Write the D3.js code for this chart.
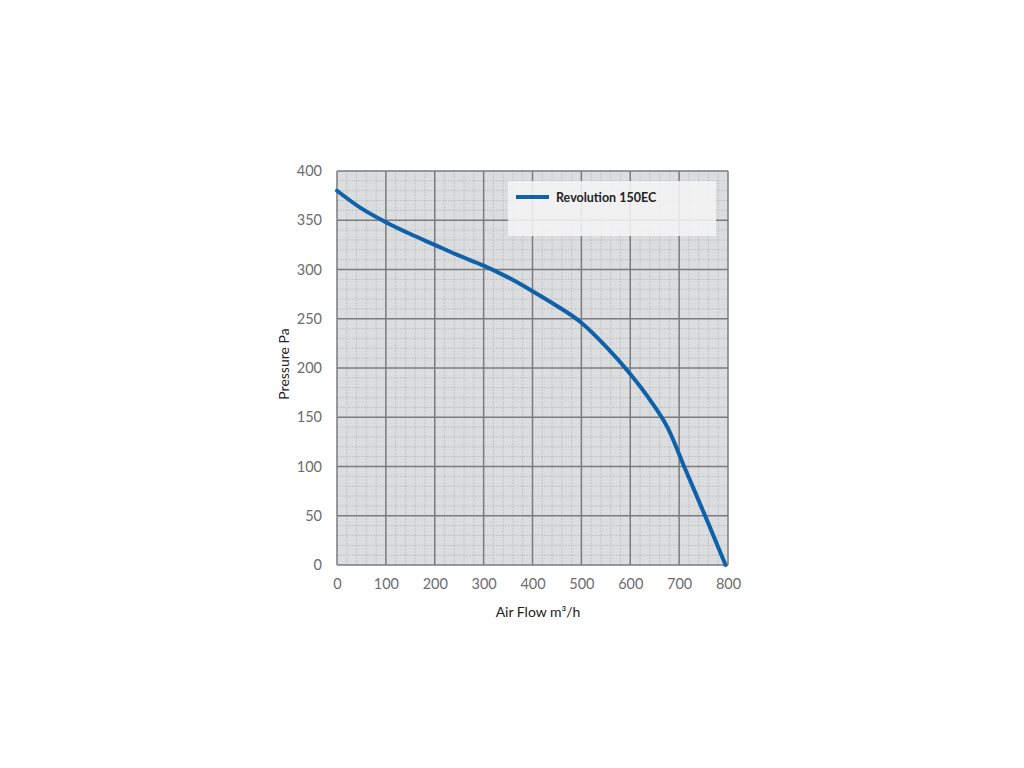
<!DOCTYPE html>
<html><head><meta charset="utf-8">
<script src="https://cdn.jsdelivr.net/npm/d3@7"></script>
<style>body{margin:0;background:#fff;} svg{display:block;}</style>
</head><body>
<script>
const seriesName = "Revolution 150EC";
const airFlow = [0,50,100,150,200,250,300,350,400,450,500,550,600,640,677,712,760,795];
const pressure = [380,362,348,336,325,314,304,292,278,263,246,222,194,168,139,98,42,0];
const xTicks = [0,100,200,300,400,500,600,700,800];
const yTicks = [0,50,100,150,200,250,300,350,400];
const xLabel = "Air Flow m³/h";
const yLabel = "Pressure Pa";

const W=1024,H=768;
const svg=d3.select("body").append("svg").attr("width",W).attr("height",H);
const x=d3.scaleLinear().domain([0,800]).range([337,728]);
const y=d3.scaleLinear().domain([0,400]).range([565,171]);
const font="Lato, 'Open Sans', sans-serif";

svg.append("rect").attr("x",x(0)).attr("y",y(400)).attr("width",x(800)-x(0)).attr("height",y(0)-y(400)).attr("fill","#dcdddf");

// minor grid
const xMinor=d3.range(0,801,20).filter(v=>v%100!==0);
const yMinor=d3.range(0,401,10).filter(v=>v%50!==0);
svg.append("g").selectAll("line").data(xMinor).join("line")
 .attr("x1",d=>x(d)).attr("x2",d=>x(d)).attr("y1",y(0)).attr("y2",y(400))
 .attr("stroke","#b4b5b8").attr("stroke-width",0.8).attr("stroke-dasharray","1.5,1.5");
svg.append("g").selectAll("line").data(yMinor).join("line")
 .attr("y1",d=>y(d)).attr("y2",d=>y(d)).attr("x1",x(0)).attr("x2",x(800))
 .attr("stroke","#b4b5b8").attr("stroke-width",0.8).attr("stroke-dasharray","1.5,1.5");
// major grid
svg.append("g").selectAll("line").data(xTicks).join("line")
 .attr("x1",d=>x(d)).attr("x2",d=>x(d)).attr("y1",y(0)).attr("y2",y(400))
 .attr("stroke","#7a7b7e").attr("stroke-width",1.5);
svg.append("g").selectAll("line").data(yTicks).join("line")
 .attr("y1",d=>y(d)).attr("y2",d=>y(d)).attr("x1",x(0)).attr("x2",x(800))
 .attr("stroke","#7a7b7e").attr("stroke-width",1.5);

// axes labels via d3 axes
const xAxis=svg.append("g").attr("transform",`translate(0,${y(0)})`)
 .call(d3.axisBottom(x).tickValues(xTicks).tickSize(0).tickPadding(14));
const yAxis=svg.append("g").attr("transform",`translate(${x(0)},0)`)
 .call(d3.axisLeft(y).tickValues(yTicks).tickSize(0).tickPadding(15));
[xAxis,yAxis].forEach(g=>{g.select(".domain").remove();
 g.selectAll("text").attr("font-family",font).attr("font-size",14.5).attr("fill","#6b6c6e");});

svg.append("text").attr("x",538).attr("y",617).attr("text-anchor","middle")
 .attr("font-family",font).attr("font-size",14).attr("fill","#222").text(xLabel);
svg.append("text").attr("transform","translate(289,364) rotate(-90)").attr("text-anchor","middle")
 .attr("font-family",font).attr("font-size",14).attr("fill","#222").text(yLabel);

// legend box
svg.append("rect").attr("x",508).attr("y",181).attr("width",208).attr("height",55)
 .attr("fill","#f4f4f5").attr("opacity",0.88);

// curve
const pts=airFlow.map((a,i)=>[a,pressure[i]]);
svg.append("path").datum(pts).attr("fill","none").attr("stroke","#0f62aa").attr("stroke-width",4)
 .attr("stroke-linecap","round")
 .attr("d",d3.line().x(d=>x(d[0])).y(d=>y(d[1])).curve(d3.curveMonotoneX));

svg.append("line").attr("x1",516).attr("x2",549).attr("y1",197).attr("y2",197)
 .attr("stroke","#0f62aa").attr("stroke-width",4);
svg.append("text").attr("x",556).attr("y",202).attr("font-family",font).attr("font-weight","bold")
 .attr("font-size",12.5).attr("fill","#222").text(seriesName);
</script>
</body></html>
